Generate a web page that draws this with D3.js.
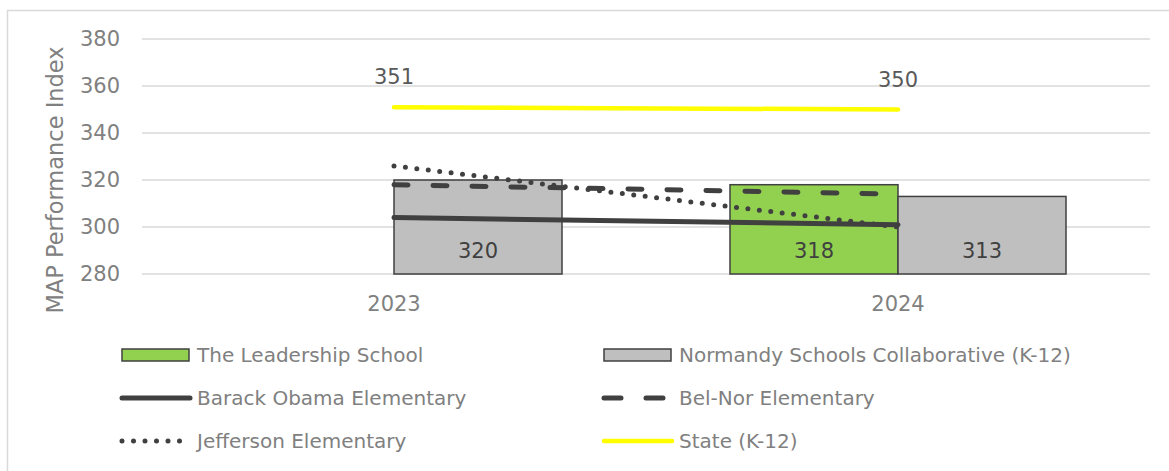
<!DOCTYPE html>
<html>
<head>
<meta charset="utf-8">
<script src="https://cdn.jsdelivr.net/npm/d3@7"></script>
<style>
  html, body { margin: 0; padding: 0; background: #fff; }
  svg { display: block; font-family: "DejaVu Sans", sans-serif; }
</style>
</head>
<body>
<svg id="chart" width="1169" height="471"></svg>
<script>
// Years on the category axis
const years = ["2023", "2024"];

// Bar series (null = no value reported)
const leadershipSchool = [null, 318];
const normandyCollaborative = [320, 313];

// Line series
const barackObama = [304, 301];
const belNor = [318, 314];
const jefferson = [326, 300];
const stateK12 = [351, 350];

// Value axis ticks
const yTicks = [280, 300, 320, 340, 360, 380];

const svg = d3.select("#chart");
const W = 1169, H = 471;
const plot = { left: 142, right: 1150, top: 39, bottom: 274 };

// outer chart frame
svg.append("rect")
  .attr("x", 7.5).attr("y", 10.5)
  .attr("width", W + 10).attr("height", H + 10)
  .attr("fill", "none").attr("stroke", "#D9D9D9").attr("stroke-width", 1.5);

const x = d3.scaleBand().domain(years).range([plot.left, plot.right]);
const y = d3.scaleLinear().domain([280, 380]).range([plot.bottom, plot.top]);
const barW = x.bandwidth() / 3;
const cx = d => x(d) + x.bandwidth() / 2;

// horizontal gridlines
svg.append("g").selectAll("line").data(yTicks).join("line")
  .attr("x1", plot.left).attr("x2", plot.right)
  .attr("y1", d => y(d)).attr("y2", d => y(d))
  .attr("stroke", "#D9D9D9").attr("stroke-width", 1.5);

// value axis labels
const yAxis = d3.axisLeft(y).tickValues(yTicks).tickSize(0).tickPadding(22);
const gy = svg.append("g").attr("transform", `translate(${plot.left},0)`).call(yAxis);
gy.select(".domain").remove();
gy.selectAll("text").attr("fill", "#808080").style("font-size", "21px")
  .style("font-family", "DejaVu Sans, sans-serif");

// category axis labels
const xAxis = d3.axisBottom(x).tickSize(0).tickPadding(22);
const gx = svg.append("g").attr("transform", `translate(0,${plot.bottom})`).call(xAxis);
gx.select(".domain").remove();
gx.selectAll("text").attr("fill", "#808080").style("font-size", "21px")
  .style("font-family", "DejaVu Sans, sans-serif");

// axis title
svg.append("text")
  .attr("transform", "translate(63,180) rotate(-90)")
  .attr("text-anchor", "middle")
  .attr("fill", "#808080").style("font-size", "22.5px")
  .text("MAP Performance Index");

// bars
const barSeries = [
  { name: "The Leadership School", values: leadershipSchool, fill: "#92D050", offset: -1 },
  { name: "Normandy Schools Collaborative (K-12)", values: normandyCollaborative, fill: "#BFBFBF", offset: 0 }
];
barSeries.forEach(s => {
  const data = years.map((yr, i) => ({ yr, v: s.values[i] })).filter(d => d.v != null);
  const g = svg.append("g");
  g.selectAll("rect").data(data).join("rect")
    .attr("x", d => cx(d.yr) + s.offset * barW)
    .attr("y", d => y(d.v))
    .attr("width", barW)
    .attr("height", d => y(280) - y(d.v))
    .attr("fill", s.fill).attr("stroke", "#404040").attr("stroke-width", 1.5);
  g.selectAll("text").data(data).join("text")
    .attr("x", d => cx(d.yr) + s.offset * barW + barW / 2)
    .attr("y", 258)
    .attr("text-anchor", "middle")
    .attr("fill", "#404040").style("font-size", "21px")
    .text(d => d.v);
});

// line series
const lineSeries = [
  { name: "Barack Obama Elementary", values: barackObama, color: "#404040", width: 5, dash: null },
  { name: "Bel-Nor Elementary", values: belNor, color: "#404040", width: 5, dash: "14 25" },
  { name: "Jefferson Elementary", values: jefferson, color: "#404040", width: 5, dash: "0 11.5" },
  { name: "State (K-12)", values: stateK12, color: "#FFFF00", width: 4.5, dash: null }
];
const line = d3.line().x(d => cx(d.yr)).y(d => y(d.v));
lineSeries.forEach(s => {
  const data = years.map((yr, i) => ({ yr, v: s.values[i] }));
  svg.append("path").datum(data)
    .attr("d", line)
    .attr("fill", "none")
    .attr("stroke", s.color).attr("stroke-width", s.width)
    .attr("stroke-linecap", "round")
    .attr("stroke-dasharray", s.dash);
});

// state value labels
svg.append("g").selectAll("text")
  .data(years.map((yr, i) => ({ yr, v: stateK12[i] })))
  .join("text")
  .attr("x", d => cx(d.yr)).attr("y", d => y(d.v) - 23)
  .attr("text-anchor", "middle")
  .attr("fill", "#595959").style("font-size", "21px")
  .text(d => d.v);

// legend
const legendItems = [
  { label: "The Leadership School", type: "bar", fill: "#92D050", col: 0, row: 0 },
  { label: "Normandy Schools Collaborative (K-12)", type: "bar", fill: "#BFBFBF", col: 1, row: 0 },
  { label: "Barack Obama Elementary", type: "line", s: lineSeries[0], col: 0, row: 1 },
  { label: "Bel-Nor Elementary", type: "line", s: lineSeries[1], col: 1, row: 1 },
  { label: "Jefferson Elementary", type: "line", s: lineSeries[2], col: 0, row: 2 },
  { label: "State (K-12)", type: "line", s: lineSeries[3], col: 1, row: 2 }
];
const colX = [120, 602];
const rowY = [355, 398, 441];
const lg = svg.append("g");
legendItems.forEach(it => {
  const x0 = colX[it.col], yy = rowY[it.row];
  if (it.type === "bar") {
    lg.append("rect").attr("x", x0 + 2).attr("y", yy - 6).attr("width", 67).attr("height", 12)
      .attr("fill", it.fill).attr("stroke", "#404040").attr("stroke-width", 1.5);
  } else {
    const dash = it.s.dash === "14 25" ? "17 25" : it.s.dash;
    lg.append("line").attr("x1", x0 + 2).attr("x2", x0 + 70).attr("y1", yy).attr("y2", yy)
      .attr("stroke", it.s.color).attr("stroke-width", it.s.width)
      .attr("stroke-linecap", "round").attr("stroke-dasharray", dash);
  }
  lg.append("text").attr("x", x0 + 77).attr("y", yy + 7)
    .attr("fill", "#808080").style("font-size", "20px")
    .text(it.label);
});
</script>
</body>
</html>
